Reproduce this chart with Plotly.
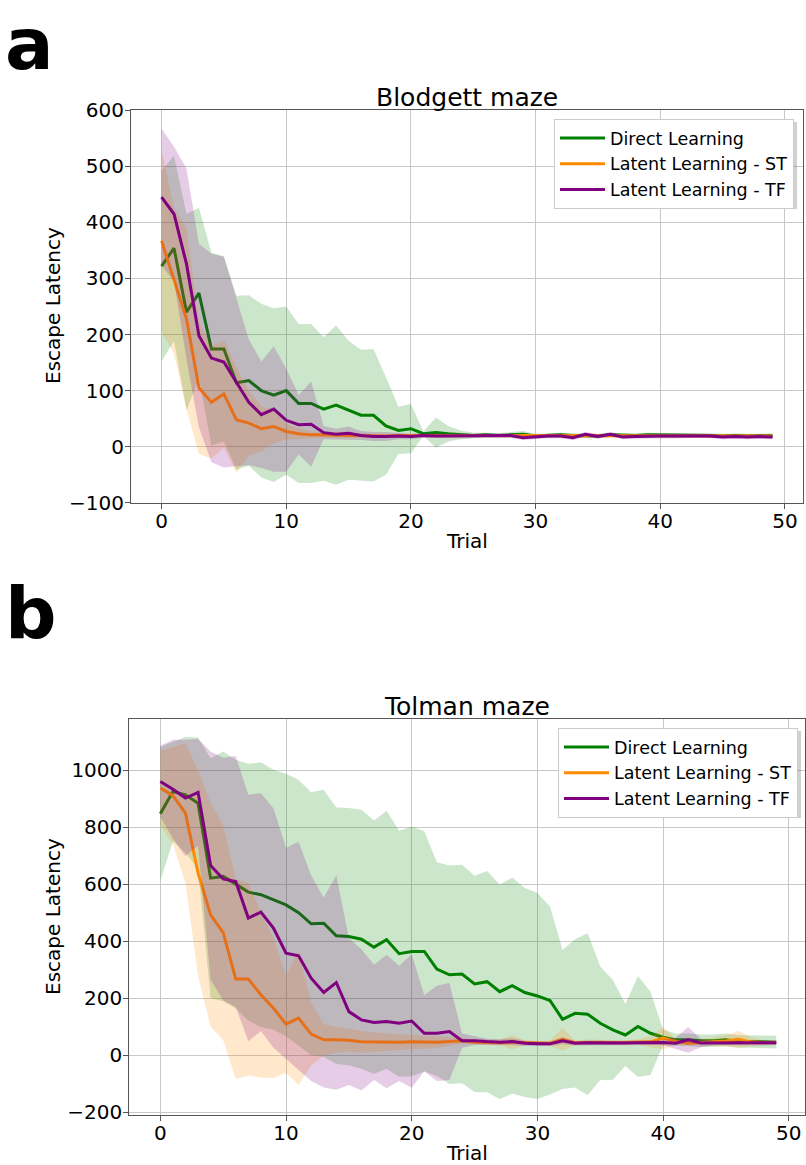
import plotly.graph_objects as go

W, H = 806, 1165
FONT = "DejaVu Sans"

trials = list(range(50))

# ---- Blodgett maze: mean escape latency and spread per trial ----
blodgett_direct_mean = [322, 354, 240, 274, 174, 174, 114, 118, 100, 92,
                        100, 77, 77, 67, 74, 65, 56, 56, 37, 29,
                        32, 23, 25, 23, 21, 20, 21, 20, 21, 22,
                        19, 20, 21, 20, 20, 19, 21, 20, 20, 21,
                        21, 20, 21, 20, 20, 19, 20, 19, 20, 20]
blodgett_direct_std = [170, 165, 175, 152, 172, 165, 155, 152, 155, 155,
                       150, 142, 142, 128, 142, 124, 117, 118, 87, 42,
                       44, 4, 27, 14, 8, 5, 4, 4, 5, 6,
                       4, 4, 4, 4, 4, 4, 4, 4, 4, 4,
                       4, 4, 4, 4, 4, 4, 4, 4, 4, 4]
blodgett_st_mean = [367, 296, 228, 105, 79, 94, 48, 42, 32, 36,
                    27, 23, 21, 21, 20, 20, 20, 19, 19, 20,
                    20, 20, 20, 19, 20, 20, 19, 20, 20, 20,
                    20, 20, 19, 20, 20, 20, 20, 19, 20, 20,
                    20, 20, 20, 20, 19, 20, 20, 19, 19, 19]
blodgett_st_std = [162, 130, 161, 118, 100, 96, 94, 58, 40, 30,
                   14, 10, 6, 5, 4, 4, 4, 4, 3, 3,
                   3, 3, 3, 3, 3, 3, 3, 3, 3, 3,
                   3, 3, 3, 3, 3, 3, 3, 3, 3, 3,
                   3, 3, 3, 3, 3, 3, 3, 3, 3, 3]
blodgett_tf_mean = [445, 415, 326, 198, 158, 151, 115, 79, 57, 67,
                    47, 39, 40, 25, 22, 24, 20, 18, 18, 19,
                    18, 20, 19, 19, 19, 19, 20, 19, 20, 16,
                    18, 19, 19, 16, 22, 18, 22, 17, 18, 19,
                    19, 19, 19, 20, 19, 17, 18, 17, 18, 17]
blodgett_tf_std = [122, 120, 170, 164, 186, 188, 150, 112, 95, 112,
                   92, 53, 76, 12, 10, 12, 8, 8, 8, 6,
                   5, 4, 4, 4, 4, 4, 4, 4, 4, 4,
                   4, 4, 4, 4, 4, 4, 4, 4, 4, 4,
                   4, 4, 4, 4, 4, 4, 4, 4, 4, 4]

# ---- Tolman maze ----
tolman_direct_mean = [847, 925, 913, 884, 621, 627, 600, 572, 563, 545,
                      527, 500, 461, 463, 419, 416, 407, 379, 405, 356,
                      364, 364, 302, 282, 285, 250, 258, 223, 244, 220,
                      208, 192, 126, 147, 144, 112, 89, 71, 101, 77,
                      63, 54, 54, 51, 51, 54, 48, 48, 48, 46]
tolman_direct_std = [235, 175, 203, 230, 420, 438, 436, 450, 464, 456,
                     460, 466, 461, 468, 450, 451, 454, 444, 452, 431,
                     438, 421, 375, 383, 383, 379, 388, 376, 379, 366,
                     361, 330, 244, 260, 284, 199, 175, 109, 177, 146,
                     26, 22, 22, 22, 22, 22, 22, 22, 22, 22]
tolman_st_mean = [937, 910, 849, 639, 492, 430, 267, 267, 212, 165,
                  109, 130, 74, 54, 54, 53, 47, 46, 46, 46,
                  47, 46, 46, 48, 51, 46, 45, 44, 46, 44,
                  43, 42, 56, 44, 45, 46, 44, 45, 46, 47,
                  60, 48, 42, 45, 47, 50, 56, 47, 44, 45]
tolman_st_std = [130, 170, 245, 360, 392, 377, 350, 338, 290, 245,
                 170, 234, 110, 55, 45, 40, 38, 35, 30, 28,
                 25, 22, 20, 15, 10, 8, 8, 10, 25, 8,
                 6, 10, 40, 8, 10, 8, 8, 8, 10, 20,
                 40, 10, 8, 10, 15, 20, 30, 15, 8, 8]
tolman_tf_mean = [960, 933, 902, 922, 665, 618, 609, 481, 502, 446,
                  358, 349, 270, 220, 255, 153, 124, 115, 118, 112,
                  120, 77, 77, 83, 51, 51, 48, 46, 48, 42,
                  40, 40, 51, 42, 44, 43, 42, 43, 44, 44,
                  45, 42, 54, 43, 43, 43, 44, 43, 42, 44]
tolman_tf_std = [125, 173, 204, 187, 400, 425, 440, 432, 417, 420,
                 370, 400, 360, 333, 376, 257, 248, 202, 234, 202,
                 234, 133, 167, 170, 25, 15, 10, 10, 12, 10,
                 8, 8, 12, 8, 8, 8, 8, 8, 8, 8,
                 10, 20, 45, 15, 8, 8, 8, 8, 8, 8]

series_names = ["Direct Learning", "Latent Learning - ST", "Latent Learning - TF"]
series_colors = ["#008000", "#ff8c00", "#800080"]
band_colors = ["rgba(0,128,0,0.2)", "rgba(255,140,0,0.2)", "rgba(128,0,128,0.2)"]

x_ticks = [0, 10, 20, 30, 40, 50]
blodgett_yticks = [-100, 0, 100, 200, 300, 400, 500, 600]
tolman_yticks = [-200, 0, 200, 400, 600, 800, 1000]


def tick_text(vals):
    return [("\u2212" + str(-v)) if v < 0 else str(v) for v in vals]


fig = go.Figure()


def add_panel(means, stds, xref, yref, legend):
    for name, color, band, m, s in zip(series_names, series_colors, band_colors, means, stds):
        upper = [a + b for a, b in zip(m, s)]
        lower = [a - b for a, b in zip(m, s)]
        fig.add_trace(go.Scatter(
            x=trials + trials[::-1], y=upper + lower[::-1],
            fill="toself", fillcolor=band, line=dict(width=0),
            mode="lines", hoverinfo="skip", showlegend=False,
            xaxis=xref, yaxis=yref))
        fig.add_trace(go.Scatter(
            x=trials, y=m, mode="lines", name=name,
            line=dict(color=color, width=3),
            xaxis=xref, yaxis=yref, legend=legend))


add_panel([blodgett_direct_mean, blodgett_st_mean, blodgett_tf_mean],
          [blodgett_direct_std, blodgett_st_std, blodgett_tf_std], "x", "y", "legend")
add_panel([tolman_direct_mean, tolman_st_mean, tolman_tf_mean],
          [tolman_direct_std, tolman_st_std, tolman_tf_std], "x2", "y2", "legend2")


def px_x(p):
    return p / W


def px_y(p):
    return 1 - p / H


axis_common = dict(
    showgrid=True, gridcolor="#c8c8c8", gridwidth=1, zeroline=False,
    showline=True, mirror=True, linecolor="#555555", linewidth=1,
    ticks="outside", ticklen=5, tickcolor="#555555", automargin=False,
    tickfont=dict(family=FONT, size=20, color="black"),
)
x_axis_common = dict(ticklabelstandoff=-5, **axis_common)
y_axis_common = dict(ticklabelstandoff=-3, **axis_common)

legend_common = dict(
    bgcolor="white", bordercolor="#cccccc", borderwidth=1,
    font=dict(family=FONT, size=17.5, color="black"),
    xanchor="right", yanchor="top", itemwidth=45, tracegroupgap=0,
)

fig.update_layout(
    template="none",
    width=W, height=H,
    margin=dict(l=0, r=0, t=0, b=0, pad=0, autoexpand=False),
    paper_bgcolor="white", plot_bgcolor="white",
    font=dict(family=FONT, color="black"),
    xaxis=dict(domain=[px_x(131), px_x(803)], range=[-2.45, 51.45], anchor="y",
               tickvals=x_ticks, ticktext=tick_text(x_ticks), **x_axis_common),
    yaxis=dict(domain=[px_y(502.7), px_y(110.3)], range=[-100, 600], anchor="x",
               tickvals=blodgett_yticks, ticktext=tick_text(blodgett_yticks), **y_axis_common),
    xaxis2=dict(domain=[px_x(129.3), px_x(805)], range=[-2.47, 51.29], anchor="y2",
                tickvals=x_ticks, ticktext=tick_text(x_ticks), **x_axis_common),
    yaxis2=dict(domain=[px_y(1115), px_y(719)], range=[-209.5, 1179], anchor="x2",
                tickvals=tolman_yticks, ticktext=tick_text(tolman_yticks), **y_axis_common),
    legend=dict(x=px_x(794), y=px_y(119), **legend_common),
    legend2=dict(x=px_x(798), y=px_y(728), **legend_common),
    showlegend=True,
)

# soft drop shadows behind the legend boxes
for (x0, y0, x1, y1) in [(552, 119, 794, 206), (556, 728, 798, 815)]:
    fig.add_shape(type="rect", xref="paper", yref="paper",
                  x0=px_x(x0 + 3), x1=px_x(x1 + 3), y0=px_y(y1 + 3), y1=px_y(y0 + 3),
                  fillcolor="rgba(0,0,0,0.18)", line=dict(width=0), layer="above")

texts = [
    ("Blodgett maze", 467, 97.4, 25, 0, "normal", "middle"),
    ("Tolman maze", 467, 706.4, 25, 0, "normal", "middle"),
    ("Trial", 467, 541, 20, 0, "normal", "middle"),
    ("Trial", 467, 1153, 20, 0, "normal", "middle"),
    ("Escape Latency", 53, 306, 20, -90, "normal", "middle"),
    ("Escape Latency", 53, 917, 20, -90, "normal", "middle"),
    ("a", 29, 0, 72, 0, "bold", "top"),
    ("b", 31, 613, 72, 0, "bold", "middle"),
]
for text, x, y, size, angle, weight, yanchor in texts:
    fig.add_annotation(text=text, x=px_x(x), y=px_y(y), xref="paper", yref="paper",
                       xanchor="center", yanchor=yanchor, showarrow=False, textangle=angle,
                       font=dict(family=FONT, size=size, color="black", weight=weight))

fig.write_html("out.html")
